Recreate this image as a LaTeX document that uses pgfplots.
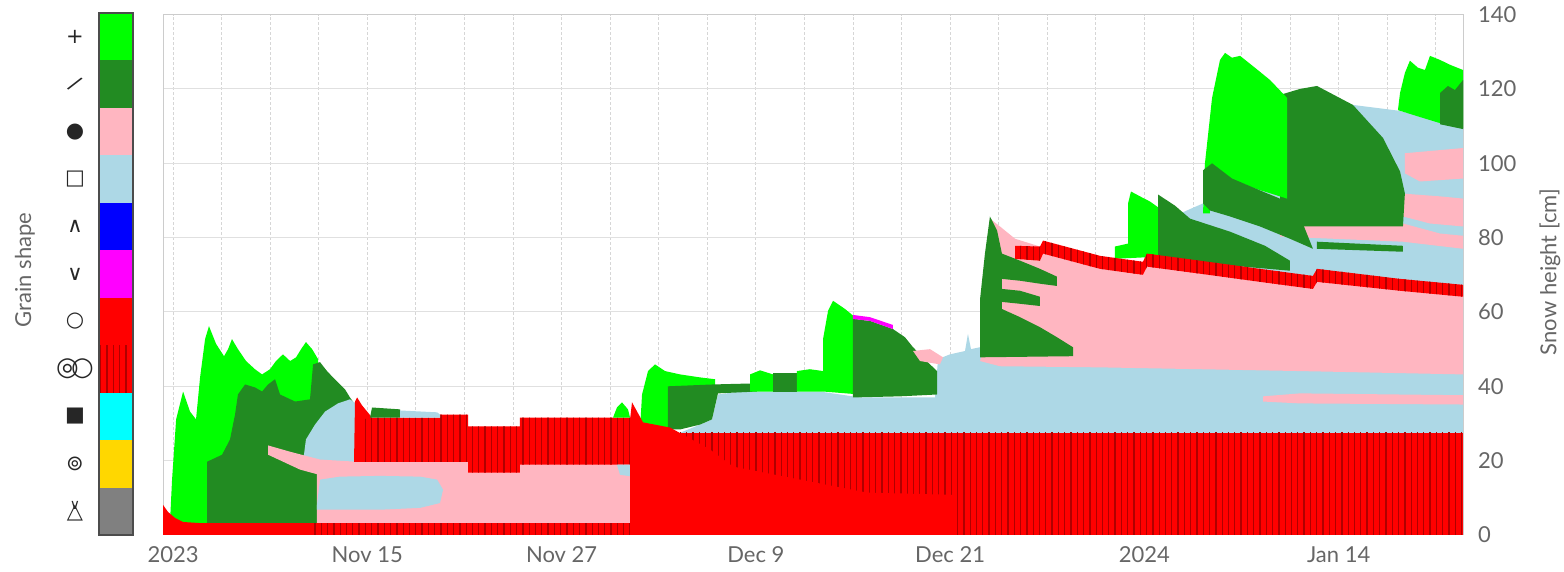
\documentclass[border=0pt]{standalone}
\usepackage{pgfplots}
\pgfplotsset{compat=1.18}
\usetikzlibrary{patterns.meta}
\usepackage{fontspec}
\setmainfont{Lato}
\newfontfamily\sym{DejaVu Sans}
\definecolor{lg}{HTML}{00FF00}
\definecolor{dg}{HTML}{228B22}
\definecolor{pk}{HTML}{FFB6C1}
\definecolor{lb}{HTML}{ADD8E6}
\definecolor{bl}{HTML}{0000FF}
\definecolor{mg}{HTML}{FF00FF}
\definecolor{rd}{HTML}{FF0000}
\definecolor{mfd}{HTML}{B00000}
\definecolor{cy}{HTML}{00FFFF}
\definecolor{gd}{HTML}{FFD700}
\definecolor{gy}{HTML}{808080}
\definecolor{txt}{HTML}{666666}
\pgfplotsset{
  poly/.style={draw=none, fill=#1},
  mf/.style={draw=none, fill=rd, postaction={pattern={Lines[angle=90,distance=3.15pt,line width=0.65pt]}, pattern color=mfd}},
}
\newcommand{\mfsym}{{\fontsize{13}{13}\selectfont ◎\kern-0.3em○}}
\newcommand{\shsym}{\ooalign{\hfil△\hfil\cr\hfil\raisebox{0.75ex}{\fontsize{7}{7}\selectfont ∨}\hfil\cr}}
\begin{document}
\begin{tikzpicture}
\path[use as bounding box] (0,0) rectangle (782pt,286pt);
\node[rotate=90, text=txt, font=\fontsize{11}{13}\selectfont] at (12.5pt,151pt) {Grain shape};
\node[rotate=90, text=txt, font=\fontsize{11}{13}\selectfont] at (775pt,150pt) {Snow height [cm]};

% ---------- grain shape colour bar ----------
\begin{axis}[at={(49.5pt,18.5pt)}, anchor=south west, scale only axis,
  width=17pt, height=261pt, xmin=0, xmax=1, ymin=0, ymax=11,
  axis on top, xtick=\empty, ytick={0.5,1.5,...,10.5},
  yticklabels={{\shsym},{⊚},{■},{\mfsym},{○},{∨},{∧},{□},{●},{\rotatebox{-35}{/}},{+}},
  yticklabel style={font=\sym\fontsize{10.5}{10.5}\selectfont, text=black!85, anchor=center, xshift=-12pt},
  tick style={draw=none}, axis line style={draw=black!70, line width=0.6pt}]
\addplot[poly=gy] coordinates {(0,0)(1,0)(1,1)(0,1)} -- cycle;
\addplot[poly=gd] coordinates {(0,1)(1,1)(1,2)(0,2)} -- cycle;
\addplot[poly=cy] coordinates {(0,2)(1,2)(1,3)(0,3)} -- cycle;
\addplot[mf] coordinates {(0,3)(1,3)(1,4)(0,4)} -- cycle;
\addplot[poly=rd] coordinates {(0,4)(1,4)(1,5)(0,5)} -- cycle;
\addplot[poly=mg] coordinates {(0,5)(1,5)(1,6)(0,6)} -- cycle;
\addplot[poly=bl] coordinates {(0,6)(1,6)(1,7)(0,7)} -- cycle;
\addplot[poly=lb] coordinates {(0,7)(1,7)(1,8)(0,8)} -- cycle;
\addplot[poly=pk] coordinates {(0,8)(1,8)(1,9)(0,9)} -- cycle;
\addplot[poly=dg] coordinates {(0,9)(1,9)(1,10)(0,10)} -- cycle;
\addplot[poly=lg] coordinates {(0,10)(1,10)(1,11)(0,11)} -- cycle;
\end{axis}

% ---------- snow profile ----------
\begin{axis}[at={(81.5pt,18.5pt)}, anchor=south west, scale only axis,
  width=650pt, height=260.2pt,
  xmin=-0.62, xmax=79.68, ymin=0, ymax=140,
  xtick={0,12,...,72}, xticklabels={2023,Nov 15,Nov 27,Dec 9,Dec 21,2024,Jan 14},
  minor xtick={0,3,...,78},
  ytick={0,20,...,140}, yticklabel pos=right,
  xmajorgrids, xminorgrids, ymajorgrids,
  x grid style={draw=black!16, dash pattern=on 1.5pt off 1pt, line width=0.4pt},
  y grid style={draw=black!12, line width=0.5pt},
  tick style={draw=none}, axis line style={draw=black!20, line width=0.5pt},
  /pgf/number format/assume math mode=true,
  ticklabel style={font=\fontsize{11}{13}\selectfont, text=txt},
  xticklabel style={anchor=base, yshift=-14pt},
  yticklabel style={anchor=west, xshift=4pt}]
% period A
\addplot[poly=lg] coordinates {(-0.19,3.2)(-0.06,14.9)(0.19,31.1)(0.62,38.6)(1.05,33.2)(1.42,31.1)(1.67,42.4)(1.98,52.7)(2.22,56.2)(2.66,51.4)(3.15,48.1)(3.40,50.0)(3.64,52.7)(4.01,50.0)(4.51,46.8)(5.06,44.6)(5.50,43.2)(5.99,44.6)(6.36,46.8)(6.79,48.6)(7.23,46.8)(7.60,47.8)(7.91,50.0)(8.21,51.9)(8.59,50.0)(8.96,47.3)(8.96,3.2)} -- cycle;
\addplot[poly=dg] coordinates {(2.10,3.2)(2.10,19.7)(3.03,21.6)(3.52,25.7)(3.83,32.4)(4.01,37.8)(4.45,40.5)(5.06,39.7)(5.50,38.6)(5.87,40.5)(6.30,41.9)(6.61,37.8)(7.54,35.9)(8.46,36.5)(8.65,45.9)(9.08,46.5)(9.51,44.1)(9.88,42.4)(10.31,40.5)(10.62,39.2)(10.93,37.0)(11.37,34.3)(11.37,3.2)} -- cycle;
\addplot[poly=lb] coordinates {(8.03,19.7)(8.21,25.7)(8.77,29.7)(9.39,33.2)(10.19,35.4)(10.93,36.5)(11.37,35.1)(11.37,19.7)} -- cycle;
\addplot[poly=pk] coordinates {(5.87,24.1)(7.23,22.4)(9.08,20.3)(11.37,19.7)(11.37,15.4)(9.70,15.4)(7.84,17.6)(5.87,21.6)} -- cycle;
\addplot[poly=pk] coordinates {(8.89,3.2)(8.89,18.1)(11.37,19.7)(28.41,20.3)(28.41,3.2)} -- cycle;
\addplot[poly=lb] coordinates {(8.89,8.1)(9.08,14.9)(10.31,15.7)(12.79,15.9)(15.26,15.7)(16.31,14.9)(16.68,12.2)(16.49,8.6)(15.26,7.3)(12.79,6.8)(10.31,6.8)(8.89,6.8)} -- cycle;
\addplot[mf] coordinates {(11.55,31.6)(16.49,31.6)(16.49,32.4)(18.22,32.4)(18.22,29.2)(21.43,29.2)(21.43,31.6)(28.41,31.6)(28.41,18.9)(21.43,18.9)(21.43,16.8)(18.22,16.8)(18.22,19.7)(11.55,19.7)} -- cycle;
\addplot[poly=rd] coordinates {(11.18,19.7)(11.24,35.9)(11.37,37.0)(11.67,34.9)(12.29,31.6)(11.67,31.1)(11.55,19.7)} -- cycle;
\addplot[poly=dg] coordinates {(12.17,31.6)(12.29,34.3)(14.02,33.8)(14.02,31.6)} -- cycle;
\addplot[poly=lb] coordinates {(14.02,31.6)(14.02,33.5)(16.31,33.0)(16.49,32.4)(16.49,31.6)} -- cycle;
\addplot[poly=lg] coordinates {(27.18,31.6)(27.42,34.3)(27.73,35.7)(28.10,33.8)(28.23,31.6)} -- cycle;
\addplot[poly=lb] coordinates {(27.42,18.9)(28.41,18.9)(28.41,15.7)(27.61,16.2)} -- cycle;
\addplot[poly=rd] coordinates {(-0.62,0)(-0.62,8.1)(-0.31,6.2)(0.12,4.6)(0.62,3.5)(1.67,3.2)(8.65,3.2)(8.65,0)} -- cycle;
\addplot[mf] coordinates {(8.65,0)(28.41,0)(28.41,3.2)(8.65,3.2)} -- cycle;
% period C
\addplot[poly=lb] coordinates {(31.32,27.5)(32.55,29.7)(33.29,31.1)(33.66,37.8)(35.02,38.6)(39.96,38.6)(42.43,37.0)(47.07,37.0)(47.25,47.3)(47.99,48.6)(48.92,49.5)(49.10,54.1)(49.29,50.0)(50.15,50.8)(51.08,51.9)(51.08,27.5)} -- cycle;
\addplot[poly=lg] coordinates {(28.85,28.9)(28.97,37.8)(29.34,44.1)(29.77,45.9)(30.39,44.1)(31.32,43.2)(32.55,42.4)(33.48,41.9)(33.48,38.6)(30.70,38.6)(30.70,28.9)} -- cycle;
\addplot[poly=dg] coordinates {(30.57,28.4)(30.57,40.0)(33.35,40.5)(36.07,40.8)(36.07,38.6)(33.66,38.1)(33.29,31.1)(32.55,29.7)(31.32,28.4)} -- cycle;
\addplot[poly=lg] coordinates {(35.64,38.6)(35.64,43.2)(36.26,44.3)(37.06,43.2)(37.06,38.6)} -- cycle;
\addplot[poly=dg] coordinates {(37.06,38.6)(37.06,43.5)(38.54,43.5)(38.54,38.6)} -- cycle;
\addplot[poly=lg] coordinates {(38.54,38.6)(38.54,44.1)(39.34,44.6)(40.15,44.1)(40.15,38.6)} -- cycle;
\addplot[poly=lg] coordinates {(40.15,38.6)(40.15,52.7)(40.46,60.3)(40.77,63.0)(41.51,60.8)(42.12,58.6)(42.43,57.6)(42.43,37.8)} -- cycle;
\addplot[poly=dg] coordinates {(42.00,37.0)(42.00,58.1)(43.05,57.6)(44.47,55.4)(45.21,53.2)(45.71,50.5)(46.14,48.6)(46.76,45.9)(47.19,44.1)(47.19,37.8)(44.90,37.3)} -- cycle;
\addplot[poly=mg] coordinates {(42.00,58.1)(42.00,59.2)(43.05,58.6)(44.47,56.5)(44.47,55.4)(43.05,57.6)} -- cycle;
\addplot[poly=pk] coordinates {(45.71,49.5)(46.76,50.0)(47.56,47.8)(47.37,45.9)(46.14,46.8)} -- cycle;
% period D
\addplot[poly=lb] coordinates {(51.08,27.5)(51.08,46.5)(79.68,46.5)(79.68,27.5)} -- cycle;
\addplot[poly=pk] coordinates {(49.85,46.8)(50.09,50.0)(50.46,85.1)(51.08,83.0)(52.01,79.7)(53.55,77.6)(57.26,73.8)(63.43,72.2)(70.41,68.4)(79.68,65.7)(79.68,43.2)(69.61,44.1)(57.26,45.1)(51.08,45.4)} -- cycle;
\addplot[poly=pk] coordinates {(67.33,37.3)(69.61,38.1)(79.68,37.6)(79.68,35.1)(69.61,35.4)(67.33,35.9)} -- cycle;
\addplot[poly=dg] coordinates {(49.85,47.8)(49.85,63.5)(50.15,75.7)(50.46,85.7)(50.90,81.9)(51.20,75.7)(52.32,73.8)(53.55,71.6)(54.60,69.5)(54.60,67.0)(53.55,67.6)(52.32,68.4)(51.20,68.9)(51.20,66.2)(52.32,65.7)(53.55,64.1)(53.55,61.6)(52.32,62.2)(51.20,62.7)(51.20,60.8)(52.32,58.6)(53.55,55.9)(54.60,53.2)(55.59,50.5)(55.59,48.1)} -- cycle;
\addplot[poly=lb] coordinates {(62.20,71.6)(62.20,86.5)(63.62,89.2)(63.74,100.0)(68.81,117.6)(70.85,119.7)(72.88,115.7)(75.79,114.1)(79.68,109.5)(79.68,64.9)} -- cycle;
\addplot[poly=pk] coordinates {(76.09,102.7)(79.68,104.1)(79.68,95.9)(77.02,95.1)(76.09,97.3)} -- cycle;
\addplot[poly=pk] coordinates {(75.79,91.9)(78.26,91.1)(79.68,90.5)(79.68,83.0)(77.64,83.8)(75.79,85.9)} -- cycle;
\addplot[poly=pk] coordinates {(68.38,83.8)(75.97,83.8)(78.26,81.1)(79.68,80.5)(79.68,77.0)(75.97,78.9)(68.38,80.3)} -- cycle;
\addplot[poly=dg] coordinates {(70.66,78.9)(75.97,77.8)(75.97,76.2)(70.66,77.0)} -- cycle;
\addplot[poly=dg] coordinates {(68.38,83.0)(68.38,118.4)(69.61,120.0)(70.66,120.8)(72.88,115.7)(74.74,106.8)(75.79,97.8)(76.09,91.9)(75.97,83.0)} -- cycle;
\addplot[poly=lg] coordinates {(63.62,86.5)(63.74,100.0)(64.18,117.6)(64.67,127.8)(64.98,129.7)(65.41,128.4)(65.91,128.9)(66.83,125.7)(67.76,122.4)(68.81,117.6)(68.81,90.5)(66.83,93.2)(65.29,95.9)(64.05,99.2)(64.05,86.5)} -- cycle;
\addplot[poly=dg] coordinates {(63.62,98.1)(64.18,100.0)(65.41,95.9)(67.14,92.7)(68.81,89.7)(69.61,85.7)(70.41,77.0)(68.99,79.7)(67.14,83.0)(65.29,85.7)(64.05,87.3)(63.62,89.2)} -- cycle;
\addplot[poly=lg] coordinates {(58.18,74.3)(58.18,77.6)(58.99,78.4)(58.99,89.2)(59.17,92.4)(59.73,91.1)(60.35,89.7)(60.96,87.8)(60.96,74.9)} -- cycle;
\addplot[poly=dg] coordinates {(60.84,74.9)(60.84,91.6)(61.89,88.6)(62.82,85.1)(65.29,81.6)(67.45,77.8)(68.99,73.8)(68.99,71.1)(63.43,73.2)} -- cycle;
\addplot[poly=lg] coordinates {(75.66,114.3)(75.79,118.9)(76.09,124.3)(76.40,127.6)(76.90,125.7)(77.33,125.1)(77.64,128.9)(78.26,127.8)(78.88,126.5)(79.68,125.1)(79.68,109.5)(78.26,110.8)(76.83,112.7)} -- cycle;
\addplot[poly=dg] coordinates {(78.26,110.5)(78.26,118.9)(78.75,120.8)(79.18,119.7)(79.68,122.4)(79.68,109.2)} -- cycle;
\addplot[mf] coordinates {(52.01,77.8)(53.55,77.6)(53.74,79.2)(57.26,75.1)(59.91,73.5)(60.16,75.7)(63.43,73.8)(67.14,71.6)(70.41,69.7)(70.66,71.6)(75.79,68.9)(79.68,67.3)(79.68,64.1)(75.79,65.7)(70.66,68.1)(70.41,66.2)(67.14,68.1)(63.43,70.3)(60.16,72.2)(59.91,70.0)(57.26,71.6)(53.74,75.7)(53.55,73.8)(52.01,74.3)} -- cycle;
% base crusts
\addplot[mf] coordinates {(28.41,0)(79.68,0)(79.68,27.5)(28.41,27.5)} -- cycle;
\addplot[poly=rd] coordinates {(28.23,0)(28.23,31.1)(28.35,35.7)(29.03,30.3)(30.70,28.9)(33.17,23.0)(34.59,18.4)(38.73,14.9)(42.87,11.4)(48.30,10.8)(48.30,0)} -- cycle;
\end{axis}
\end{tikzpicture}
\end{document}
